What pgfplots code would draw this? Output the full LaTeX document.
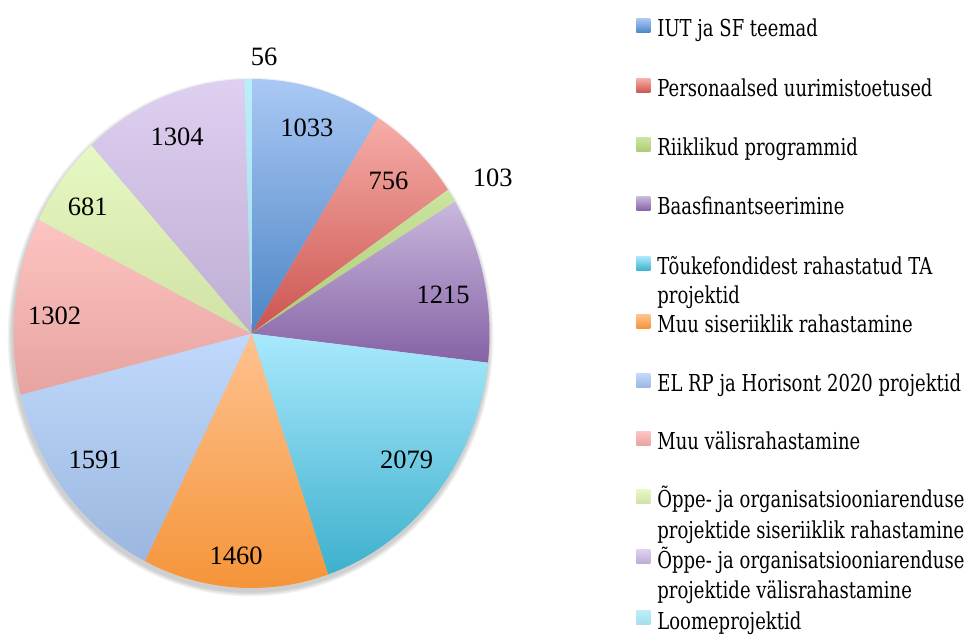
\documentclass[border=0pt]{standalone}
\usepackage{fontspec}
\setmainfont{Liberation Serif}
\newfontfamily\legfont{DejaVu Serif}[FakeStretch=0.772]
\usepackage{pgfplots}
\usepackage{pgfplotstable}
\pgfplotsset{compat=1.18}

\definecolor{t0}{HTML}{AAC8F4}\definecolor{b0}{HTML}{4C85C5}
\definecolor{t1}{HTML}{F7ADA7}\definecolor{b1}{HTML}{CB5450}
\definecolor{t2}{HTML}{CBE4A0}\definecolor{b2}{HTML}{AFCB72}
\definecolor{t3}{HTML}{C9B8DE}\definecolor{b3}{HTML}{8562A5}
\definecolor{t4}{HTML}{A9E9FD}\definecolor{b4}{HTML}{3DB0CD}
\definecolor{t5}{HTML}{FEC290}\definecolor{b5}{HTML}{F59336}
\definecolor{t6}{HTML}{C0D9FC}\definecolor{b6}{HTML}{9BB7DF}
\definecolor{t7}{HTML}{FDC4C1}\definecolor{b7}{HTML}{E7A3A0}
\definecolor{t8}{HTML}{E7F9C3}\definecolor{b8}{HTML}{CFE1A4}
\definecolor{t9}{HTML}{DFD0F2}\definecolor{b9}{HTML}{BCADD2}
\definecolor{t10}{HTML}{BAEEF9}\definecolor{b10}{HTML}{A5DDEC}

% value, label radius, label angle shift
\pgfplotstableread{
id v lr da
0 1033 0.84 0
1 756 0.83 0
2 103 1.184 1.7
3 1215 0.82 1.5
4 2079 0.82 -1.5
5 1460 0.875 0.3
6 1591 0.825 1.5
7 1302 0.83 -1.5
8 681 0.85 -1.2
9 1304 0.835 0
10 56 1.088 3.64
}\piedata

\pgfplotstablegetrowsof{\piedata}
\pgfmathtruncatemacro\lastrow{\pgfplotsretval-1}
\gdef\tot{0}
\foreach \i in {0,...,\lastrow}{%
  \pgfplotstablegetelem{\i}{v}\of\piedata
  \pgfmathsetmacro\myTmp{\tot+\pgfplotsretval}%
  \xdef\tot{\myTmp}}
\gdef\cum{0}
\foreach \i in {0,...,\lastrow}{%
  \pgfplotstablegetelem{\i}{v}\of\piedata \let\myV\pgfplotsretval
  \pgfplotstablegetelem{\i}{lr}\of\piedata \let\myLR\pgfplotsretval
  \pgfplotstablegetelem{\i}{da}\of\piedata \let\myDA\pgfplotsretval
  \pgfmathsetmacro\myAS{\cum/\tot*360}%
  \pgfmathsetmacro\myAE{(\cum+\myV)/\tot*360}%
  \pgfmathsetmacro\myAL{(\myAS+\myAE)/2+\myDA}%
  \pgfmathsetmacro\mySX{sin(\myAS)}%
  \pgfmathsetmacro\mySY{cos(\myAS)}%
  \pgfmathsetmacro\myTA{90-\myAS}%
  \pgfmathsetmacro\myTB{90-\myAE}%
  \pgfmathsetmacro\myLX{\myLR*sin(\myAL)}%
  \pgfmathsetmacro\myLY{\myLR*cos(\myAL)}%
  \expandafter\xdef\csname val\i\endcsname{\myV}%
  \expandafter\xdef\csname sx\i\endcsname{\mySX}%
  \expandafter\xdef\csname sy\i\endcsname{\mySY}%
  \expandafter\xdef\csname ta\i\endcsname{\myTA}%
  \expandafter\xdef\csname tb\i\endcsname{\myTB}%
  \expandafter\xdef\csname lx\i\endcsname{\myLX}%
  \expandafter\xdef\csname ly\i\endcsname{\myLY}%
  \pgfmathsetmacro\myTmp{\cum+\myV}%
  \xdef\cum{\myTmp}}

\newcommand\numfont{\fontsize{13.3}{15}\selectfont}
\newcommand\legsize{\legfont\fontsize{11.7}{14}\selectfont}
\newcommand\legsq[2]{\node[anchor=south west,inner sep=0pt,minimum size=7bp,top color=t#1,bottom color=b#1,yshift=2bp] at (axis cs:1.6155,#2) {};}
\newcommand\legtx[2]{\node[anchor=base west,inner sep=0pt,font=\legsize,text=black] at (axis cs:1.70378,#1) {#2};}

\begin{document}
\begin{tikzpicture}
\begin{axis}[x=119bp, y=127.25bp, xmin=-1.05672, xmax=2.99790, ymin=-1.17682, ymax=1.31041,
  hide axis, clip=false]
\path (axis cs:-1.05672,-1.17682) rectangle (axis cs:2.99790,1.31041);
% soft shadow
\pgfplotsinvokeforeach{1,2,3,4}{
  \fill[black,opacity=0.05] (axis cs:-0.004,-0.014) ellipse [x radius={119bp+#1*0.6bp}, y radius={127.25bp+#1*0.6bp}];
}
% slices
\pgfplotsinvokeforeach{0,...,10}{
  \path[top color=t#1, bottom color=b#1] (axis cs:0,0) -- (axis cs:\csname sx#1\endcsname,\csname sy#1\endcsname)
    arc[start angle=\csname ta#1\endcsname, end angle=\csname tb#1\endcsname, x radius=119bp, y radius=127.25bp] -- cycle;
}
% data labels
\pgfplotsinvokeforeach{0,...,10}{
  \node[font=\numfont, inner sep=0pt] at (axis cs:\csname lx#1\endcsname,\csname ly#1\endcsname) {\csname val#1\endcsname};
}
% legend
\legsq{0}{1.16503}\legtx{1.16503}{IUT ja SF teemad}
\legsq{1}{0.92927}\legtx{0.92927}{Personaalsed uurimistoetused}
\legsq{2}{0.69745}\legtx{0.69745}{Riiklikud programmid}
\legsq{3}{0.46562}\legtx{0.46562}{Baasfinantseerimine}
\legsq{4}{0.22986}\legtx{0.22986}{Tõukefondidest rahastatud TA}\legtx{0.11591}{projektid}
\legsq{5}{0.00196}\legtx{0.00196}{Muu siseriiklik rahastamine}
\legsq{6}{-0.22986}\legtx{-0.22986}{EL RP ja Horisont 2020 projektid}
\legsq{7}{-0.45776}\legtx{-0.45776}{Muu välisrahastamine}
\legsq{8}{-0.68566}\legtx{-0.68566}{Õppe- ja organisatsiooniarenduse}\legtx{-0.80354}{projektide siseriiklik rahastamine}
\legsq{9}{-0.92141}\legtx{-0.92141}{Õppe- ja organisatsiooniarenduse}\legtx{-1.03929}{projektide välisrahastamine}
\legsq{10}{-1.16110}\legtx{-1.16110}{Loomeprojektid}
\end{axis}
\end{tikzpicture}
\end{document}
